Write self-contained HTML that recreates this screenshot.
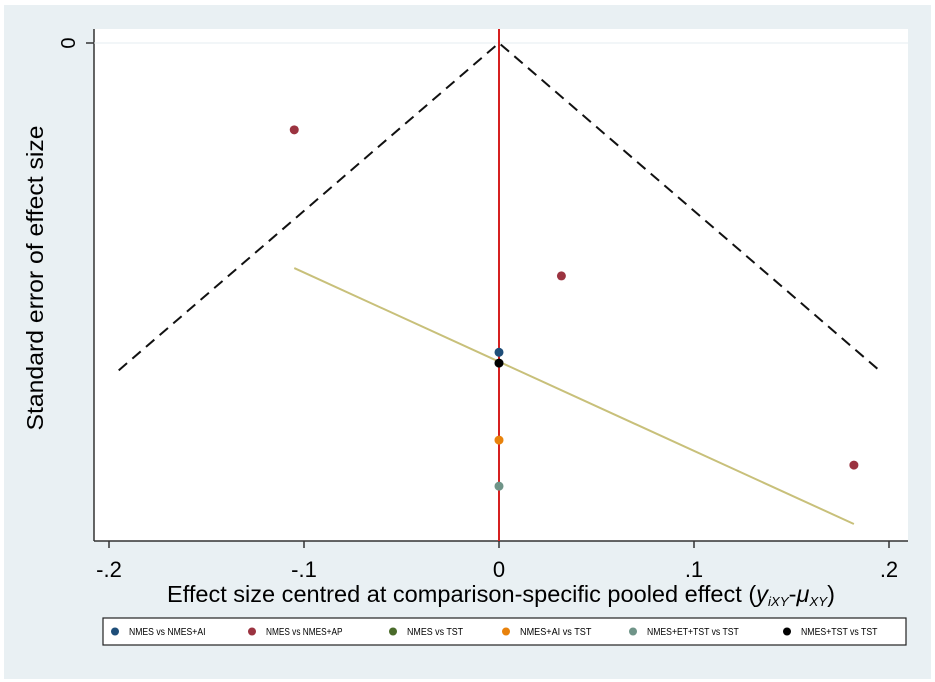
<!DOCTYPE html>
<html><head><meta charset="utf-8"><style>
body{margin:0;background:#fff}
svg{display:block;font-family:"Liberation Sans",sans-serif}
</style></head><body>
<svg width="935" height="682" viewBox="0 0 935 682">
<rect x="4" y="5" width="927" height="674" fill="#e9f0f3"/>
<rect x="94" y="29" width="814" height="512" fill="#fff"/>
<rect x="103" y="618" width="803" height="27" fill="#fff" stroke="#222" stroke-width="1.2"/>
<g id="g"></g>
<text x="43" y="278" font-size="23" text-anchor="middle" textLength="305" lengthAdjust="spacingAndGlyphs" transform="rotate(-90 43 278)">Standard error of effect size</text>
<text x="167" y="602" font-size="23" textLength="668" lengthAdjust="spacingAndGlyphs">Effect size centred at comparison-specific pooled effect (<tspan font-style="italic">y</tspan><tspan font-style="italic" font-size="13" dy="4">iXY</tspan><tspan dy="-4">-</tspan><tspan font-style="italic">μ</tspan><tspan font-style="italic" font-size="13" dy="4">XY</tspan><tspan dy="-4">)</tspan></text>
</svg>
<script>
const xTicks=[-0.2,-0.1,0,0.1,0.2];
const xTickLabels=["-.2","-.1","0",".1",".2"];
const pointsX=[0,-0.105,0.032,0.182,0,0,0];
const pointsSE=[0.094,0.0264,0.0708,0.1283,0.1207,0.1347,0.0973];
const pointsGroup=[0,1,1,1,3,4,5];
const seriesNames=["NMES vs NMES+AI","NMES vs NMES+AP","NMES vs TST","NMES+AI vs TST","NMES+ET+TST vs TST","NMES+TST vs TST"];
const seriesColors=["#1f4e79","#9b3340","#4a6b2a","#e8820c","#6f9488","#000000"];
const funnelMaxSE=0.0995;
const regX=[-0.105,0.182];
const regSE=[0.0684,0.1462];
const legendX=[115,252,393,506,633,787];

const NS="http://www.w3.org/2000/svg";
const g=document.getElementById('g');
const xs=v=>499+v*1950, ys=s=>43+s*3290;
function mk(t,a){const e=document.createElementNS(NS,t);for(const k in a)e.setAttribute(k,a[k]);g.appendChild(e);return e;}
let e;
e=mk('line',{x1:94,y1:29,x2:94,y2:541,stroke:'#333','stroke-width':1.5});


e=mk('line',{x1:94,y1:541,x2:908,y2:541,stroke:'#333','stroke-width':1.5});


e=mk('line',{x1:94,y1:ys(0),x2:908,y2:ys(0),stroke:'#e6eef0','stroke-width':1});


e=mk('line',{x1:86,y1:ys(0),x2:94,y2:ys(0),stroke:'#333','stroke-width':1.5});


e=mk('text',{x:68,y:ys(0),'font-size':20,'text-anchor':'middle',transform:`rotate(-90 68 ${ys(0)})`,dy:7});
e.textContent='0';


xTicks.forEach((t,i)=>{
 e=mk('line',{x1:xs(t),y1:541,x2:xs(t),y2:548,stroke:'#333','stroke-width':1.5});
 
 
 e=mk('text',{x:xs(t),y:577,'font-size':22,'text-anchor':'middle'});
 e.textContent=xTickLabels[i];
 
 
});
const fx=funnelMaxSE*1.96;
e=mk('polyline',{points:`${xs(-fx)},${ys(funnelMaxSE)} ${xs(0)},${ys(0)} ${xs(fx)},${ys(funnelMaxSE)}`,fill:'none',stroke:'#111','stroke-width':2,'stroke-dasharray':'11,7'});


e=mk('line',{x1:xs(0),y1:29,x2:xs(0),y2:541,stroke:'#d62020','stroke-width':2});


e=mk('line',{x1:xs(regX[0]),y1:ys(regSE[0]),x2:xs(regX[1]),y2:ys(regSE[1]),stroke:'#c8c07a','stroke-width':2});


pointsX.forEach((v,i)=>{
 e=mk('circle',{cx:xs(v),cy:ys(pointsSE[i]),r:4.5,fill:seriesColors[pointsGroup[i]]});
 
 
});
seriesNames.forEach((n,i)=>{
 e=mk('circle',{cx:legendX[i],cy:631.5,r:4,fill:seriesColors[i]});
 
 
 e=mk('text',{x:legendX[i]+14,y:635,'font-size':10,textLength:n.length*5.1,lengthAdjust:'spacingAndGlyphs'});
 e.textContent=n;
 
 
});
</script>
</body></html>
